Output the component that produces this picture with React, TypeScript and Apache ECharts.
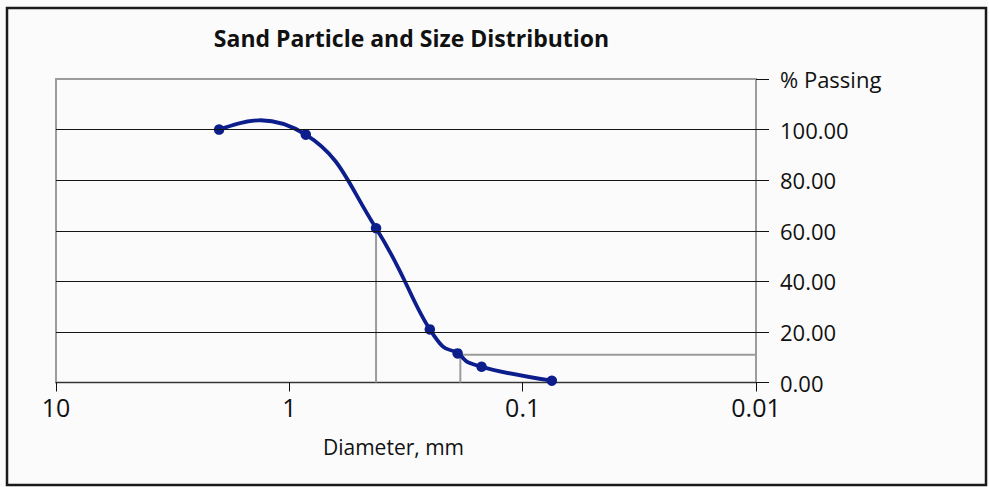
import React, { useEffect, useRef } from 'react';
import * as echarts from 'echarts';

const titleText = 'Sand Particle and Size Distribution';
const xAxisName = 'Diameter, mm';
const diameters = [2.0, 0.85, 0.425, 0.25, 0.19, 0.15, 0.075];
const passing = [100, 98, 61, 21, 11.5, 6.2, 0.7];
const xTickValues = [10, 1, 0.1, 0.01];
const xTickLabels = ['10', '1', '0.1', '0.01'];
const yTickLabels = ['0.00', '20.00', '40.00', '60.00', '80.00', '100.00', '% Passing'];
const gridValues = [20, 40, 60, 80, 100];
const d60Line = [[0.425, 0], [0.425, 61]];
const d10Line = [[0.185, 0], [0.185, 11], [0.01, 11]];

const FONT = "'Open Sans', 'DejaVu Sans', sans-serif";
const CURVE = '#0c1d8c';
const GRAY = '#9c9c9c';

export default function App() {
  const ref = useRef<HTMLDivElement>(null);
  useEffect(() => {
    if (!ref.current) return;
    const chart = echarts.init(ref.current, undefined, { renderer: 'svg' });
    const pts = diameters.map((d, i) => [d, passing[i]]);
    const option: any = {
      animation: false,
      backgroundColor: '#fbfbfb',
      grid: {
        left: 56, right: 233, top: 79, bottom: 104.5,
        show: true, borderColor: GRAY, borderWidth: 2, backgroundColor: 'transparent',
      },
      xAxis: {
        type: 'log', logBase: 10, min: 0.01, max: 10, inverse: true,
        axisLine: { show: true, lineStyle: { color: '#333', width: 1 } },
        axisTick: { show: true, length: 9, lineStyle: { color: '#111', width: 1 } },
        minorTick: { show: false },
        splitLine: { show: false },
        axisLabel: {
          margin: 12, color: '#111', fontSize: 25, fontFamily: FONT,
          formatter: (v: number) => {
            const k = xTickValues.findIndex((t) => Math.abs(Math.log10(t) - Math.log10(v)) < 1e-6);
            return k >= 0 ? xTickLabels[k] : '';
          },
        },
      },
      yAxis: {
        type: 'value', position: 'right', min: 0, max: 120, interval: 20,
        axisLine: { show: false },
        axisTick: { show: true, length: 13, lineStyle: { color: '#111', width: 1 } },
        splitLine: { show: false },
        axisLabel: {
          margin: 24, color: '#111', fontSize: 22, fontFamily: FONT,
          formatter: (v: number) => yTickLabels[Math.round(v / 20)] ?? '',
        },
      },
      graphic: [
        {
          type: 'rect', silent: true, z: 100,
          shape: { x: 7, y: 8, width: 979, height: 477 },
          style: { fill: 'none', stroke: '#1a1a1a', lineWidth: 2.5 },
        },
        {
          type: 'text', x: 411.5, y: 38,
          style: { text: titleText, align: 'center', verticalAlign: 'middle', font: `bold 23px ${FONT}`, fill: '#111' },
        },
        {
          type: 'text', x: 393.5, y: 447,
          style: { text: xAxisName, align: 'center', verticalAlign: 'middle', font: `21px ${FONT}`, fill: '#111' },
        },
      ],
      series: [
        {
          type: 'line', data: d60Line, symbol: 'none', z: 1, silent: true,
          lineStyle: { color: GRAY, width: 2 },
          markLine: {
            silent: true, symbol: ['none', 'none'], label: { show: false },
            lineStyle: { color: '#141414', width: 1.2, type: 'solid' },
            data: gridValues.map((v) => ({ yAxis: v })),
          },
        },
        {
          type: 'line', data: d10Line, symbol: 'none', z: 1, silent: true,
          lineStyle: { color: GRAY, width: 2 },
        },
        {
          type: 'custom', coordinateSystem: 'cartesian2d', z: 3, silent: true,
          data: pts, encode: { x: 0, y: 1 },
          renderItem: (params: any, api: any) => {
            const i = params.dataIndex;
            const n = diameters.length;
            if (i >= n - 1) return null;
            const P = (j: number) => api.coord([diameters[j], passing[j]]);
            const p0 = P(i), p1 = P(i + 1);
            const T = 0.23;
            let c1: number[] | null = null, c2: number[] | null = null;
            if (i > 0) { const pm = P(i - 1); c1 = [p0[0] + (p1[0] - pm[0]) * T, p0[1] + (p1[1] - pm[1]) * T]; }
            if (i + 2 < n) { const pn = P(i + 2); c2 = [p1[0] - (pn[0] - p0[0]) * T, p1[1] - (pn[1] - p0[1]) * T]; }
            if (!c1 && c2) c1 = [(p0[0] + c2[0]) / 2, (p0[1] + c2[1]) / 2];
            if (!c2 && c1) c2 = [(p1[0] + c1[0]) / 2, (p1[1] + c1[1]) / 2];
            if (!c1 || !c2) { c1 = p0; c2 = p1; }
            return {
              type: 'bezierCurve',
              shape: { x1: p0[0], y1: p0[1], x2: p1[0], y2: p1[1], cpx1: c1[0], cpy1: c1[1], cpx2: c2[0], cpy2: c2[1] },
              style: { stroke: CURVE, lineWidth: 3.8, fill: 'none' },
            };
          },
        },
        {
          type: 'scatter', data: pts, z: 4, symbol: 'circle', symbolSize: 10.5, silent: true,
          itemStyle: { color: CURVE, opacity: 1 },
        },
      ],
    };
    chart.setOption(option);
    return () => chart.dispose();
  }, []);
  return <div ref={ref} style={{ position: 'fixed', left: 0, top: 0, width: 989, height: 487 }} />;
}
